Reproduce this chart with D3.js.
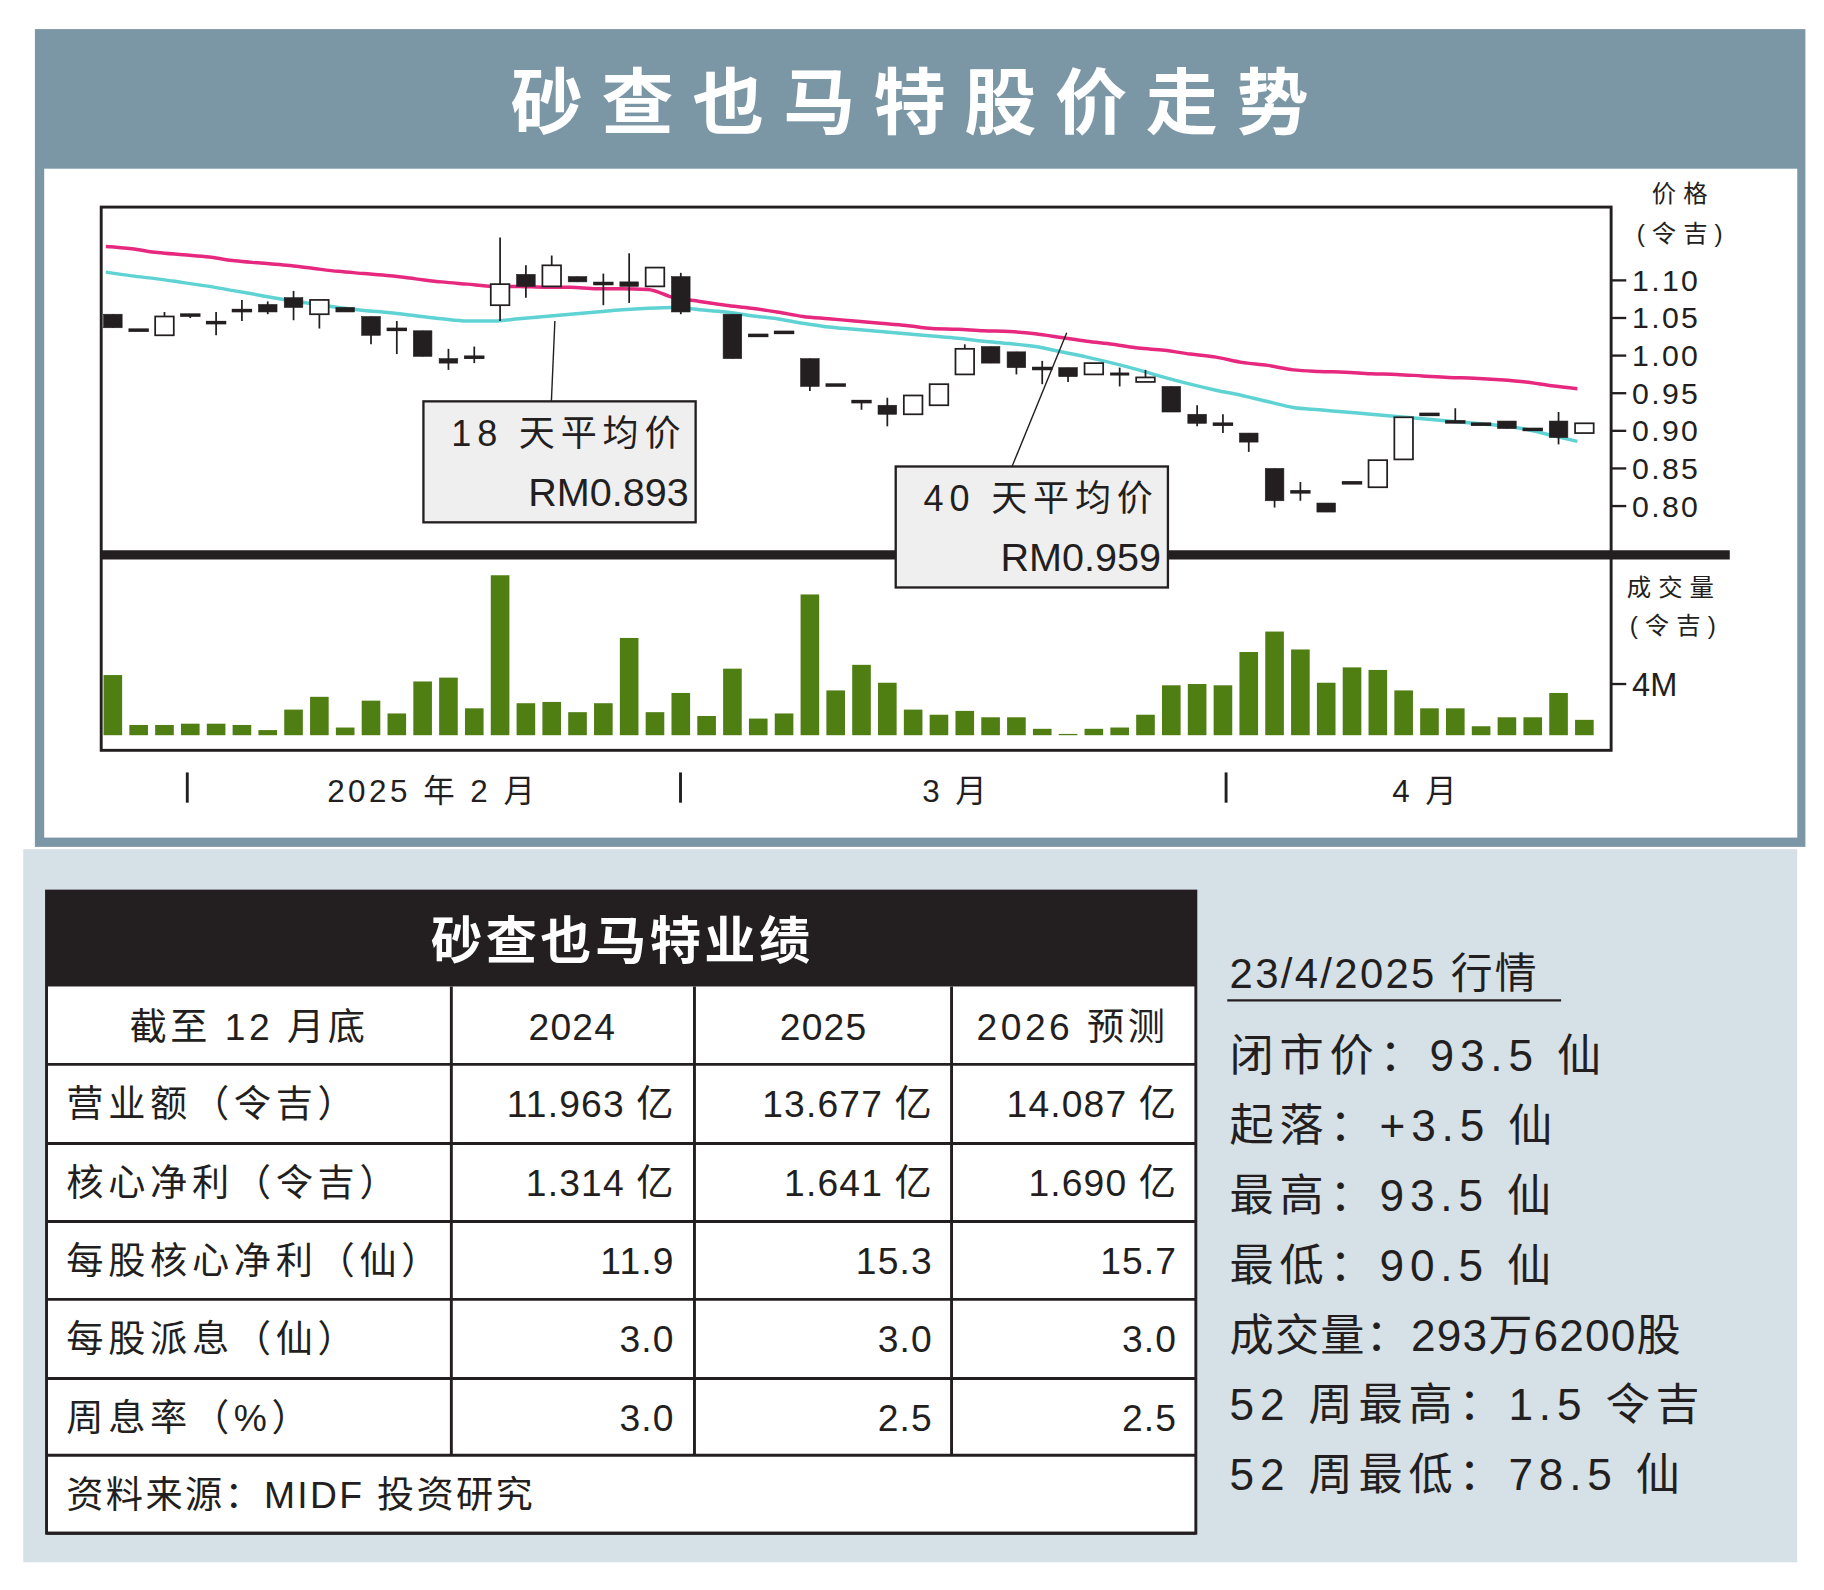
<!DOCTYPE html>
<html><head><meta charset="utf-8">
<script src="https://cdn.jsdelivr.net/npm/d3@7"></script>
<style>body{margin:0;background:#fff}svg{display:block}text{font-family:"Liberation Sans","Noto Sans CJK SC",sans-serif}</style>
</head><body><svg id="c" width="1824" height="1590" viewBox="0 0 1568 1366.8"></svg>
<script>
const openP=[1.055,1.035,1.027,1.055,1.045,1.061,1.068,1.077,1.055,1.064,1.052,1.036,1.033,0.996,0.999,1.067,1.108,1.092,1.105,1.097,1.098,1.092,1.105,null,1.055,1.028,1.032,0.996,0.962,0.940,0.934,0.922,0.934,0.975,1.012,1.005,0.984,0.984,0.975,0.977,0.965,0.959,0.922,0.910,0.897,0.850,0.820,0.804,0.832,0.825,0.862,0.923,0.913,0.910,0.913,0.903,0.913,0.897];
const highP=[1.055,1.035,1.058,1.055,1.058,1.074,1.072,1.086,1.074,1.064,1.052,1.046,1.033,1.009,1.012,1.157,1.120,1.133,1.105,1.109,1.136,1.117,1.110,null,1.055,1.028,1.032,0.996,0.962,0.940,0.944,0.947,0.962,1.015,1.012,1.005,0.993,0.984,0.990,0.984,0.981,0.959,0.934,0.922,0.897,0.850,0.832,0.804,0.832,0.861,0.918,0.923,0.930,0.910,0.913,0.903,0.925,0.910];
const lowP=[1.037,1.035,1.027,1.050,1.027,1.046,1.055,1.047,1.036,1.058,1.015,1.002,0.999,0.981,0.990,1.046,1.077,1.092,1.098,1.067,1.070,1.092,1.055,null,0.996,1.028,1.032,0.953,0.962,0.928,0.906,0.922,0.934,0.975,0.990,0.975,0.962,0.965,0.975,0.959,0.965,0.925,0.906,0.897,0.872,0.798,0.807,0.792,0.832,0.825,0.862,0.923,0.913,0.910,0.903,0.903,0.882,0.897];
const closeP=[1.037,1.035,1.052,1.055,1.045,1.061,1.058,1.064,1.074,1.058,1.027,1.036,0.999,0.990,0.999,1.095,1.092,1.120,1.098,1.097,1.092,1.117,1.058,null,0.996,1.028,1.032,0.959,0.962,0.940,0.922,0.947,0.962,1.009,0.990,0.984,0.984,0.972,0.990,0.974,0.971,0.925,0.910,0.910,0.885,0.807,0.820,0.792,0.832,0.861,0.918,0.923,0.913,0.910,0.903,0.903,0.891,0.910];
const ma18=[1.111,1.106,1.102,1.097,1.092,1.086,1.080,1.074,1.069,1.064,1.060,1.057,1.053,1.049,1.046,1.046,1.049,1.052,1.055,1.058,1.061,1.063,1.064,1.061,1.058,1.053,1.049,1.043,1.038,1.035,1.032,1.029,1.026,1.023,1.019,1.016,1.012,1.005,0.998,0.990,0.981,0.971,0.962,0.954,0.947,0.939,0.931,0.928,0.925,0.922,0.919,0.916,0.913,0.910,0.907,0.902,0.894,0.886];
const ma40=[1.145,1.142,1.137,1.134,1.131,1.126,1.123,1.120,1.116,1.112,1.109,1.106,1.102,1.098,1.095,1.092,1.092,1.091,1.091,1.089,1.089,1.088,1.077,1.072,1.067,1.063,1.058,1.052,1.049,1.046,1.043,1.040,1.036,1.035,1.033,1.032,1.029,1.024,1.019,1.015,1.010,1.007,1.002,0.998,0.991,0.987,0.981,0.979,0.978,0.976,0.975,0.973,0.971,0.970,0.968,0.965,0.960,0.956];
const volume=[4.7,0.8,0.8,0.9,0.9,0.8,0.4,2.0,3.0,0.6,2.7,1.7,4.2,4.5,2.1,12.5,2.5,2.6,1.8,2.5,7.6,1.8,3.3,1.5,5.2,1.3,1.7,11.0,3.5,5.5,4.1,2.0,1.6,1.9,1.4,1.4,0.5,0.1,0.5,0.6,1.6,3.9,4.0,3.9,6.5,8.1,6.7,4.1,5.3,5.1,3.5,2.1,2.1,0.7,1.4,1.4,3.3,1.2];
const priceTicks=[1.10,1.05,1.00,0.95,0.90,0.85,0.80];
const monthLabels=[{t:"2025 年 2 月",x:372},{t:"3 月",x:822},{t:"4 月",x:1226}];
const tableHead=["截至 12 月底","2024","2025","2026 预测"];
const tableRows=[["营业额（令吉）","11.963 亿","13.677 亿","14.087 亿"],["核心净利（令吉）","1.314 亿","1.641 亿","1.690 亿"],["每股核心净利（仙）","11.9","15.3","15.7"],["每股派息（仙）","3.0","3.0","3.0"],["周息率（%）","3.0","2.5","2.5"]];
const infoLines=["闭市价：93.5 仙","起落：+3.5 仙","最高：93.5 仙","最低：90.5 仙","成交量：293万6200股","52 周最高：1.5 令吉","52 周最低：78.5 仙"];

const svg=d3.select("#c");
const ink="#231f20";
svg.append("rect").attr("x",30).attr("y",25).attr("width",1522).attr("height",703).attr("fill","#7b97a5");
svg.append("text").attr("x",790).attr("y",110).attr("text-anchor","middle").attr("fill","#fff").attr("font-size",62).attr("font-weight","bold").attr("letter-spacing",16).text("砂查也马特股价走势");
svg.append("rect").attr("x",38).attr("y",145).attr("width",1507).attr("height",575).attr("fill","#fff");
svg.append("rect").attr("x",20).attr("y",730).attr("width",1525).attr("height",613).attr("fill","#d5e0e7");

const x=d3.scaleLinear().domain([0,57]).range([97,1362]);
const y=d3.scaleLinear().domain([0.80,1.10]).range([435,241]);
const yv=d3.scaleLinear().domain([0,4]).range([632,588]);
const g=svg.append("g");
g.selectAll(".v").data(volume).join("rect").attr("x",(d,i)=>x(i)-8).attr("width",16).attr("y",d=>yv(d)).attr("height",d=>yv(0)-yv(d)).attr("fill","#4f7e12");
const line=d3.line().x((d,i)=>x(i)-6).y(d=>y(d)).curve(d3.curveMonotoneX);
g.append("path").attr("d",line(ma40)).attr("fill","none").attr("stroke","#e6287e").attr("stroke-width",3);
g.append("path").attr("d",line(ma18)).attr("fill","none").attr("stroke","#5fd3d4").attr("stroke-width",3);
const idx=d3.range(openP.length).filter(i=>openP[i]!=null);
g.selectAll(".w").data(idx).join("line").attr("x1",i=>x(i)).attr("x2",i=>x(i)).attr("y1",i=>y(highP[i])).attr("y2",i=>y(lowP[i])).attr("stroke",ink).attr("stroke-width",1.5);
g.selectAll(".b").data(idx).join("rect").attr("x",i=>x(i)-8).attr("width",16)
 .attr("y",i=>y(Math.max(openP[i],closeP[i]))).attr("height",i=>Math.max(1.5,Math.abs(y(openP[i])-y(closeP[i]))))
 .attr("fill",i=>closeP[i]<openP[i]?ink:"#fff").attr("stroke",ink).attr("stroke-width",i=>closeP[i]<openP[i]?0.5:1.5);
svg.append("rect").attr("x",87).attr("y",178).attr("width",1298).attr("height",467).attr("fill","none").attr("stroke",ink).attr("stroke-width",2.5);
svg.append("line").attr("x1",87).attr("x2",1487).attr("y1",477).attr("y2",477).attr("stroke",ink).attr("stroke-width",8);
const pa=svg.append("g");
priceTicks.forEach(t=>{pa.append("line").attr("x1",1385).attr("x2",1398).attr("y1",y(t)).attr("y2",y(t)).attr("stroke",ink).attr("stroke-width",2);
 pa.append("text").attr("x",1403).attr("y",y(t)+9).attr("font-size",26).attr("letter-spacing",2).attr("fill",ink).text(t.toFixed(2));});
pa.append("line").attr("x1",1385).attr("x2",1398).attr("y1",yv(4)).attr("y2",yv(4)).attr("stroke",ink).attr("stroke-width",2);
pa.append("text").attr("x",1403).attr("y",yv(4)+10).attr("font-size",28).attr("fill",ink).text("4M");
[["价格",1447,174],["(令吉)",1447,208],["成交量",1439,512],["(令吉)",1441,545]].forEach(a=>pa.append("text").attr("x",a[1]).attr("y",a[2]).attr("text-anchor","middle").attr("font-size",21).attr("letter-spacing",6).attr("fill",ink).text(a[0]));
[161,585,1054].forEach(v=>svg.append("line").attr("x1",v).attr("x2",v).attr("y1",664).attr("y2",690).attr("stroke",ink).attr("stroke-width",2.5));
monthLabels.forEach(m=>svg.append("text").attr("x",m.x).attr("y",689).attr("text-anchor","middle").attr("font-size",27).attr("letter-spacing",3).attr("fill",ink).text(m.t));
function ann(bx,by,lx,ly,px,py,t1,t2){
 svg.append("line").attr("x1",lx).attr("y1",ly).attr("x2",px).attr("y2",py).attr("stroke",ink).attr("stroke-width",1.2);
 svg.append("rect").attr("x",bx).attr("y",by).attr("width",234).attr("height",104).attr("fill","#efefef").attr("stroke",ink).attr("stroke-width",2);
 svg.append("text").attr("x",bx+226).attr("y",by+38).attr("text-anchor","end").attr("font-size",31).attr("letter-spacing",5).attr("fill",ink).text(t1);
 svg.append("text").attr("x",bx+228).attr("y",by+90).attr("text-anchor","end").attr("font-size",34).attr("fill",ink).text(t2);
}
ann(364,345,474,345,477,276,"18 天平均价","RM0.893");
ann(770,401,870,401,917,286,"40 天平均价","RM0.959");
const T=svg.append("g");
T.append("rect").attr("x",40).attr("y",766).attr("width",988).attr("height",552).attr("fill","#fff");
T.append("rect").attr("x",40).attr("y",766).attr("width",988).attr("height",82).attr("fill",ink);
T.append("text").attr("x",535).attr("y",824).attr("text-anchor","middle").attr("fill","#fff").attr("font-size",44).attr("font-weight","bold").attr("letter-spacing",3).text("砂查也马特业绩");
const rowY=[848,915,983,1050,1117,1185,1251,1318];
rowY.slice(1).forEach(v=>T.append("line").attr("x1",40).attr("x2",1028).attr("y1",v).attr("y2",v).attr("stroke",ink).attr("stroke-width",2.5));
[388,597,818].forEach(v=>T.append("line").attr("x1",v).attr("x2",v).attr("y1",848).attr("y2",1251).attr("stroke",ink).attr("stroke-width",2.5));
T.append("rect").attr("x",40).attr("y",766).attr("width",988).attr("height",552).attr("fill","none").attr("stroke",ink).attr("stroke-width",2.5);
const cc=[214,492,708,922];
tableHead.forEach((h,j)=>T.append("text").attr("x",cc[j]).attr("y",894).attr("text-anchor","middle").attr("font-size",32).attr("letter-spacing",j==0||j==3?3:1).attr("fill",ink).text(h));
const rx=[580,802,1012];
tableRows.forEach((r,i)=>{const yy=rowY[i+1]+45;
 T.append("text").attr("x",57).attr("y",yy).attr("font-size",32).attr("letter-spacing",4).attr("fill",ink).text(r[0]);
 r.slice(1).forEach((v,j)=>T.append("text").attr("x",rx[j]).attr("y",yy).attr("text-anchor","end").attr("font-size",32).attr("letter-spacing",1).attr("fill",ink).text(v));});
T.append("text").attr("x",57).attr("y",1296).attr("font-size",32).attr("letter-spacing",2).attr("fill",ink).text("资料来源：MIDF 投资研究");
svg.append("text").attr("x",1057).attr("y",849).attr("font-size",36).attr("font-family","Liberation Serif, serif").attr("letter-spacing",2).attr("fill",ink).text("23/4/2025 行情");
svg.append("line").attr("x1",1055).attr("x2",1342).attr("y1",860).attr("y2",860).attr("stroke",ink).attr("stroke-width",2);
infoLines.forEach((t,i)=>svg.append("text").attr("x",1057).attr("y",921+i*60).attr("font-size",38).attr("letter-spacing",i==4?1:5).attr("fill",ink).text(t));
</script></body></html>
